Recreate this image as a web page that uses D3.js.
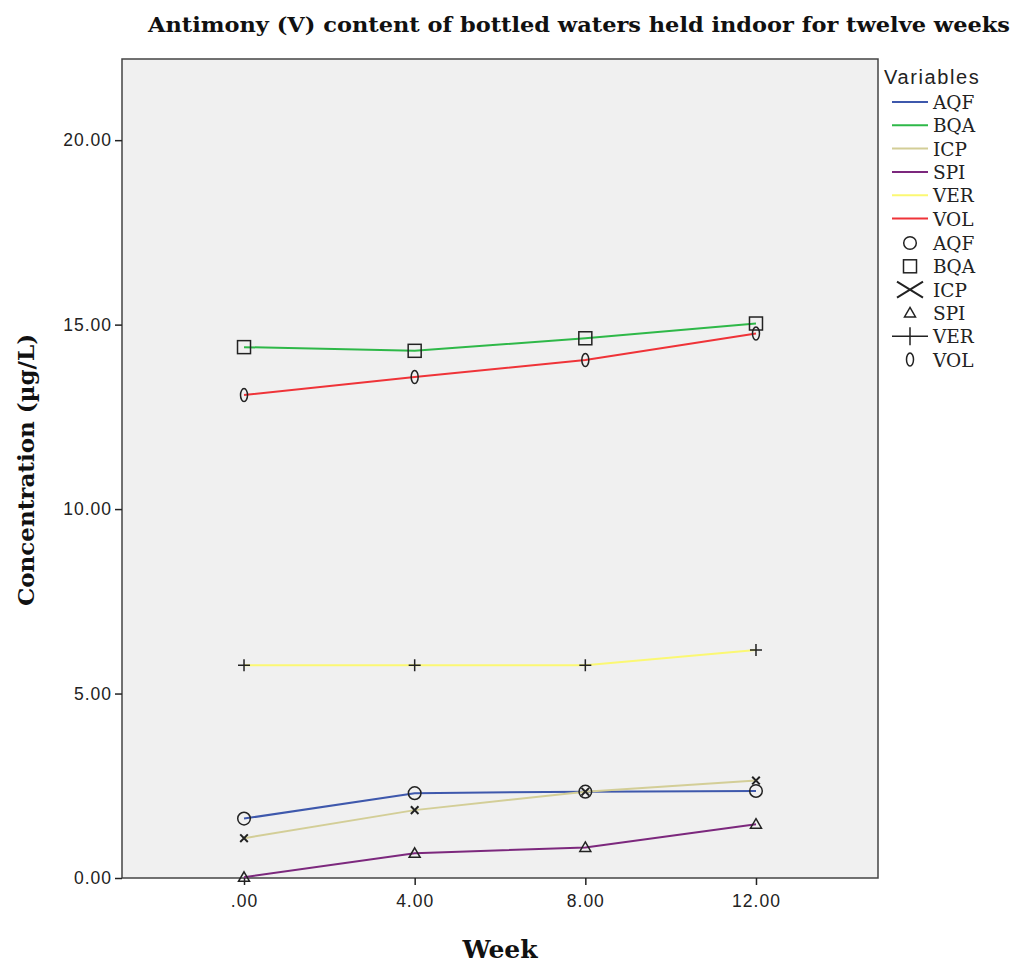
<!DOCTYPE html>
<html><head><meta charset="utf-8">
<script src="https://cdn.jsdelivr.net/npm/d3@7"></script>
<style>body{margin:0;background:#fff}</style>
</head><body>
<svg id="c" width="1014" height="965"></svg>
<script>
const weeks = [0, 4, 8, 12];
const seriesNames = ["AQF", "BQA", "ICP", "SPI", "VER", "VOL"];
const AQF = [1.61, 2.30, 2.34, 2.36];
const BQA = [14.39, 14.29, 14.63, 15.03];
const ICP = [1.08, 1.84, 2.34, 2.64];
const SPI = [0.02, 0.67, 0.83, 1.46];
const VER = [5.77, 5.77, 5.77, 6.18];
const VOL = [13.09, 13.58, 14.04, 14.76];
const xTickValues = [0, 4, 8, 12];
const xTickLabels = [".00", "4.00", "8.00", "12.00"];
const yTickValues = [0, 5, 10, 15, 20];
const yTickLabels = ["0.00", "5.00", "10.00", "15.00", "20.00"];
const colors = {AQF:"#3E58AC", BQA:"#2EB848", ICP:"#D3CE97", SPI:"#7C287D", VER:"#FBF873", VOL:"#EF3338"};
const values = {AQF, BQA, ICP, SPI, VER, VOL};

const svg = d3.select("#c");
const L = 122, R = 878, T = 59, B = 878;
const x = d3.scaleLinear().domain([-2.86, 14.86]).range([L, R]);
const y = d3.scaleLinear().domain([0, 22.2]).range([B, T]);

svg.append("rect").attr("x", L).attr("y", T).attr("width", R - L).attr("height", B - T)
  .attr("fill", "#f0f0f0").attr("stroke", "#444").attr("stroke-width", 1.5);

const xAxis = svg.append("g").attr("transform", `translate(0,${B})`)
  .call(d3.axisBottom(x).tickValues(xTickValues).tickSize(7).tickSizeOuter(0)
    .tickFormat((d, i) => xTickLabels[i]));
const yAxis = svg.append("g").attr("transform", `translate(${L},0)`)
  .call(d3.axisLeft(y).tickValues(yTickValues).tickSize(7).tickSizeOuter(0)
    .tickFormat((d, i) => yTickLabels[i]));
[xAxis, yAxis].forEach(g => {
  g.select(".domain").remove();
  g.selectAll("line").attr("stroke", "#222").attr("stroke-width", 1.5);
  g.selectAll("text").attr("font-family", "Liberation Sans, Arial, sans-serif")
    .attr("font-size", 17.5).attr("fill", "#222").attr("letter-spacing", 1);
});
xAxis.selectAll("text").attr("dy", "1.1em");
yAxis.selectAll("text").attr("x", -10);

svg.append("text").attr("x", 579).attr("y", 32).attr("text-anchor", "middle")
  .attr("font-family", "DejaVu Serif, serif").attr("font-weight", "bold").attr("font-size", 20.5)
  .attr("textLength", 862).attr("lengthAdjust", "spacingAndGlyphs").attr("fill", "#111")
  .text("Antimony (V) content of bottled waters held indoor for twelve weeks");

svg.append("text").attr("x", 500).attr("y", 958).attr("text-anchor", "middle")
  .attr("font-family", "DejaVu Serif, serif").attr("font-weight", "bold").attr("font-size", 25)
  .attr("fill", "#111").text("Week");

svg.append("text").attr("transform", "translate(34,470) rotate(-90)").attr("text-anchor", "middle")
  .attr("font-family", "DejaVu Serif, serif").attr("font-weight", "bold").attr("font-size", 23)
  .attr("fill", "#111").text("Concentration (µg/L)");

const line = d3.line().x((d, i) => x(weeks[i])).y(d => y(d));
seriesNames.forEach(n => {
  svg.append("path").datum(values[n]).attr("d", line).attr("fill", "none")
    .attr("stroke", colors[n]).attr("stroke-width", 2);
});

function marker(g, n, cx, cy, big) {
  const s = "#222", sw = 1.5;
  if (n === "AQF") g.append("circle").attr("cx", cx).attr("cy", cy).attr("r", 6.3).attr("fill", "none").attr("stroke", s).attr("stroke-width", sw);
  if (n === "BQA") g.append("rect").attr("x", cx - 6.5).attr("y", cy - 6.5).attr("width", 13).attr("height", 13).attr("fill", "none").attr("stroke", s).attr("stroke-width", sw);
  if (n === "ICP") {
    const w = big ? 13 : 3.8, h = big ? 8 : 3.8;
    g.append("path").attr("d", `M${cx-w},${cy-h}L${cx+w},${cy+h}M${cx-w},${cy+h}L${cx+w},${cy-h}`).attr("stroke", s).attr("stroke-width", 2);
  }
  if (n === "SPI") g.append("path").attr("d", `M${cx},${cy-5.5}L${cx+5.5},${cy+4}L${cx-5.5},${cy+4}Z`).attr("fill", "none").attr("stroke", s).attr("stroke-width", sw);
  if (n === "VER") {
    const w = big ? 18 : 6, h = big ? 9 : 6;
    g.append("path").attr("d", `M${cx-w},${cy}L${cx+w},${cy}M${cx},${cy-h}L${cx},${cy+h}`).attr("stroke", s).attr("stroke-width", sw);
  }
  if (n === "VOL") g.append("ellipse").attr("cx", cx).attr("cy", cy).attr("rx", 3.5).attr("ry", 6.5).attr("fill", "none").attr("stroke", s).attr("stroke-width", sw);
}
const mg = svg.append("g");
seriesNames.forEach(n => {
  values[n].forEach((v, i) => marker(mg, n, x(weeks[i]), y(v), false));
});

// legend
const lg = svg.append("g");
lg.append("text").attr("x", 884).attr("y", 84).attr("font-family", "Liberation Sans, Arial, sans-serif")
  .attr("font-size", 20).attr("letter-spacing", 1.6).attr("fill", "#222").text("Variables");
const step = 23.3;
seriesNames.forEach((n, i) => {
  const yy = 102 + i * step;
  lg.append("line").attr("x1", 892).attr("x2", 928).attr("y1", yy).attr("y2", yy)
    .attr("stroke", colors[n]).attr("stroke-width", 2);
  lg.append("text").attr("x", 933).attr("y", yy + 7).attr("font-family", "DejaVu Serif, serif")
    .attr("font-size", 18.5).attr("fill", "#222").text(n);
});
seriesNames.forEach((n, i) => {
  const yy = 243 + i * step;
  marker(lg, n, 910, yy, true);
  lg.append("text").attr("x", 933).attr("y", yy + 7).attr("font-family", "DejaVu Serif, serif")
    .attr("font-size", 18.5).attr("fill", "#222").text(n);
});
</script>
</body></html>
